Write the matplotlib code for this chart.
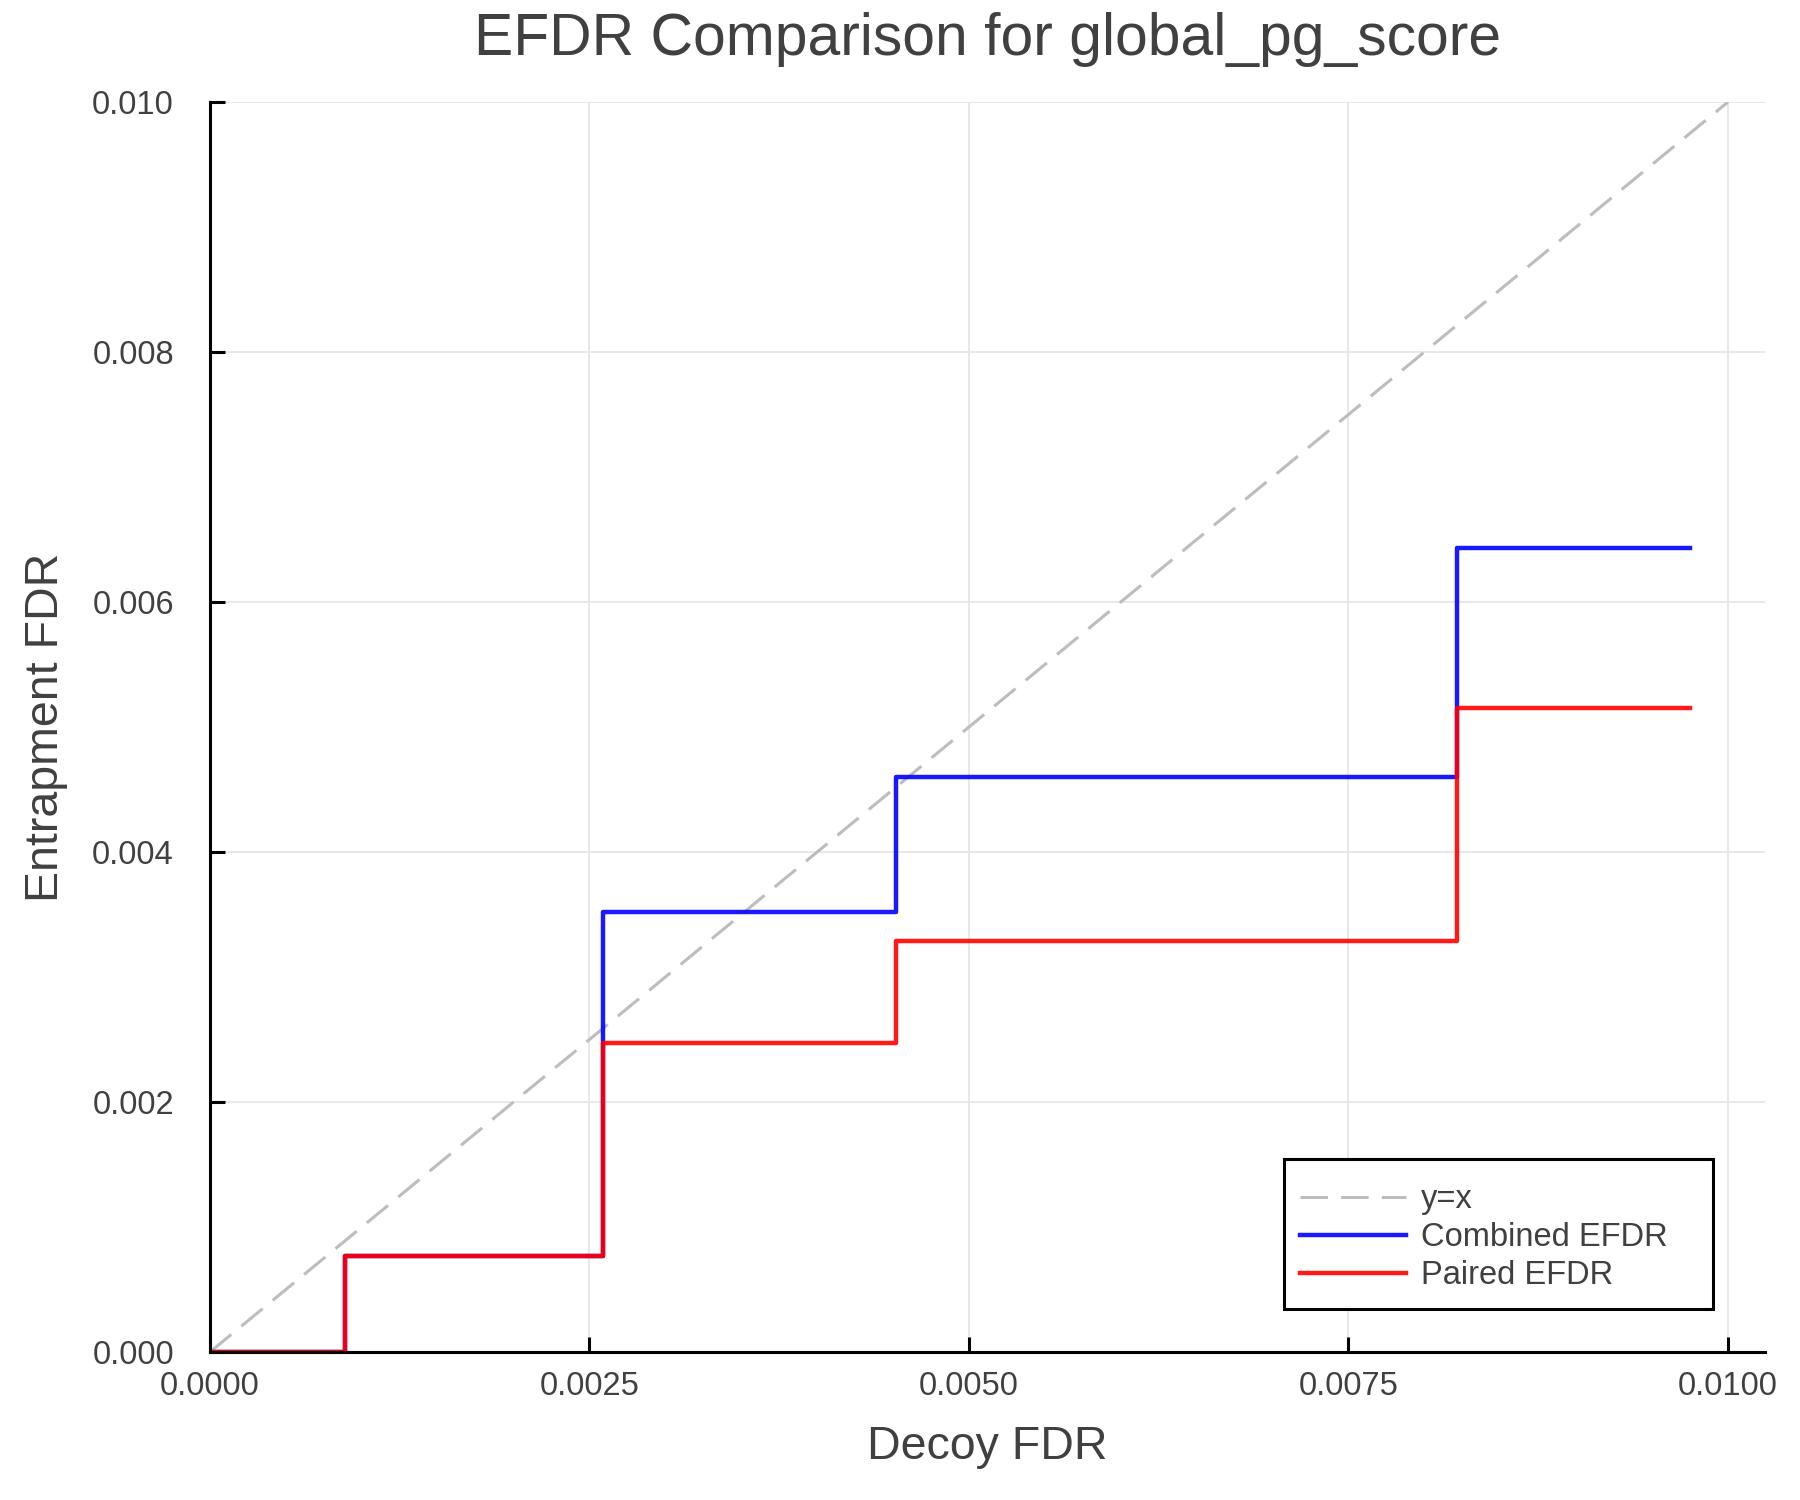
import matplotlib
matplotlib.use("Agg")
import matplotlib.pyplot as plt
from matplotlib.patches import Rectangle

# Data
decoy_fdr = [0.0, 0.000888, 0.00259, 0.004518, 0.008217, 0.00975]
combined_efdr = [0.0, 0.000768, 0.003518, 0.004603, 0.006435, 0.006435]
paired_efdr = [0.0, 0.000768, 0.00247, 0.00329, 0.00515, 0.00515]
diag = [0.0, 0.01]

xticks = [0.0, 0.0025, 0.005, 0.0075, 0.01]
xtick_labels = ["0.0000", "0.0025", "0.0050", "0.0075", "0.0100"]
yticks = [0.0, 0.002, 0.004, 0.006, 0.008, 0.010]
ytick_labels = ["0.000", "0.002", "0.004", "0.006", "0.008", "0.010"]

title = "EFDR Comparison for global_pg_score"
xlabel = "Decoy FDR"
ylabel = "Entrapment FDR"

plt.rcParams['font.family'] = ['Liberation Sans', 'DejaVu Sans']
txt = '#404040'

fig = plt.figure(figsize=(18, 15), dpi=100)
ax = fig.add_axes([0.11667, 0.09867, 0.86389, 0.83333])

ax.plot(diag, diag, color='#bdbdbd', lw=2.2, dashes=(9, 4.3), label='y=x',
        solid_capstyle='butt', dash_capstyle='butt')
ax.plot(decoy_fdr, combined_efdr, drawstyle='steps-post', color='blue', alpha=0.9,
        lw=3.2, label='Combined EFDR')
ax.plot(decoy_fdr, paired_efdr, drawstyle='steps-post', color='red', alpha=0.9,
        lw=3.2, label='Paired EFDR')

ax.set_xlim(0, 0.010244)
ax.set_ylim(0, 0.010)
ax.set_xticks(xticks)
ax.set_xticklabels(xtick_labels)
ax.set_yticks(yticks)
ax.set_yticklabels(ytick_labels)

for s in ['top', 'right']:
    ax.spines[s].set_visible(False)
for s in ['left', 'bottom']:
    ax.spines[s].set_linewidth(2.2)
    ax.spines[s].set_color('black')

ax.tick_params(axis='both', direction='in', length=11, width=2.2, colors='black',
               labelcolor=txt, labelsize=23.5)
ax.tick_params(axis='x', pad=14)
ax.tick_params(axis='y', pad=26)
ax.grid(True, color='#e6e6e6', lw=1.3)
ax.set_axisbelow(True)

fig.text(0.5486, 0.9633, title, ha='center', va='baseline', fontsize=42.3, color=txt)
fig.text(0.5486, 0.0273, xlabel, ha='center', va='baseline', fontsize=33.5, color=txt)
fig.text(0.0133, 0.515, ylabel, ha='left', va='center', rotation=90,
         fontsize=33.5, color=txt)

# Legend frame (drawn separately to match the reference's padding)
frame = Rectangle((0.6907, 0.0344), 0.2759, 0.12, transform=ax.transAxes,
                  facecolor='white', edgecolor='black', lw=2.2, zorder=4)
ax.add_patch(frame)
leg = ax.legend(loc='upper left', bbox_to_anchor=(0.701, 0.134),
                fontsize=23.5, frameon=False, handlelength=3.25, handletextpad=0.46,
                labelspacing=0.21, borderpad=0, borderaxespad=0)
leg.set_zorder(5)
for t in leg.get_texts():
    t.set_color(txt)

fig.savefig('out.png', dpi=100, facecolor='white')
